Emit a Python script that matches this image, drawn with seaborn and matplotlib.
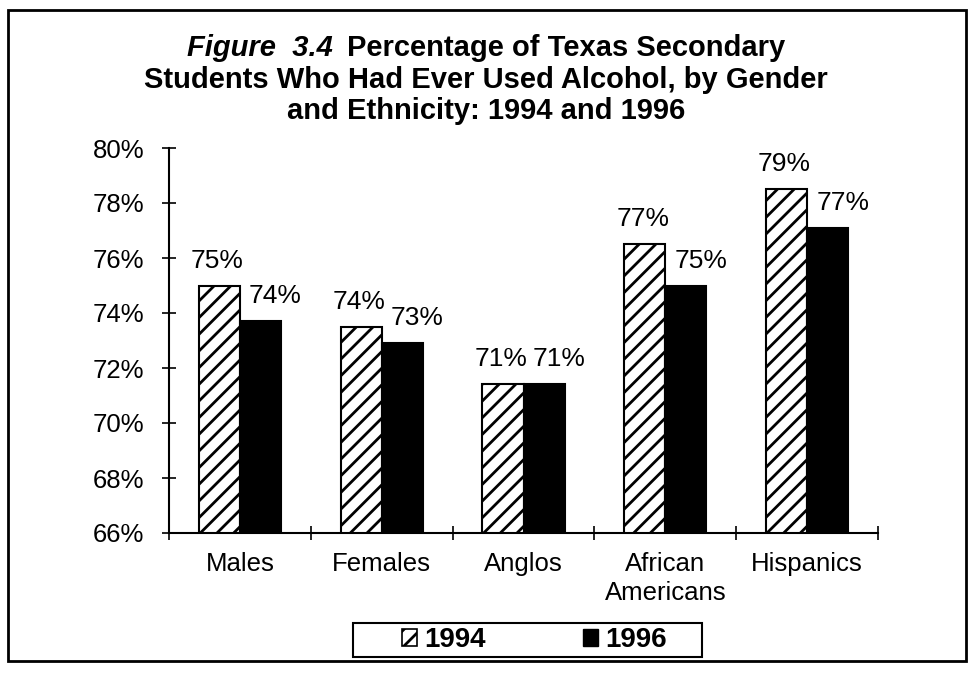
import matplotlib
matplotlib.use("Agg")
import matplotlib.pyplot as plt
import seaborn as sns
import pandas as pd
from matplotlib.patches import Patch, Rectangle

# ---- data ----
categories = ["Males", "Females", "Anglos", "African\nAmericans", "Hispanics"]
years = ["1994", "1996"]
values_1994 = [75.0, 73.5, 71.4, 76.5, 78.5]
values_1996 = [73.7, 72.9, 71.4, 75.0, 77.1]
y_ticks = [66, 68, 70, 72, 74, 76, 78, 80]

sns.set_theme(style="white")
plt.rcParams["font.family"] = ["Liberation Sans", "DejaVu Sans"]
plt.rcParams["hatch.linewidth"] = 2.0
plt.rcParams["hatch.color"] = "black"
plt.rcParams["text.color"] = "black"
plt.rcParams["xtick.color"] = "black"
plt.rcParams["ytick.color"] = "black"

df = pd.DataFrame({
    "group": categories * 2,
    "year": [years[0]] * len(categories) + [years[1]] * len(categories),
    "value": values_1994 + values_1996,
})

W, H = 969, 674
fig = plt.figure(figsize=(W / 100, H / 100), dpi=100)
fig.patch.set_facecolor("white")
ax = fig.add_axes([169 / W, 1 - 533 / H, (878 - 169) / W, (533 - 148) / H])

sns.barplot(data=df, x="group", y="value", hue="year", hue_order=years,
            order=categories, palette={"1994": "white", "1996": "black"},
            edgecolor="black", linewidth=1.5, width=0.58, ax=ax,
            legend=False, errorbar=None, saturation=1)
for p in ax.containers[0]:
    p.set_hatch("//")

# value labels
for ci, (cont, vals) in enumerate(zip(ax.containers, [values_1994, values_1996])):
    dx = -2 if ci == 0 else 15
    for bar, v in zip(cont, vals):
        ax.annotate(f"{int(v + 0.5)}%",
                    (bar.get_x() + bar.get_width() / 2, bar.get_height()),
                    xytext=(dx, 18), textcoords="offset pixels",
                    ha="center", va="baseline", fontsize=19, color="black",
                    annotation_clip=False)

ax.set_ylim(66, 80)
ax.set_xlim(-0.5, len(categories) - 0.5)
ax.set_yticks(y_ticks)
ax.set_yticklabels([f"{t}%" for t in y_ticks], fontsize=18.5, color="black")
ax.set_xticks([i - 0.5 for i in range(len(categories) + 1)])
ax.set_xticklabels([])
ax.set_xticks(range(len(categories)), minor=True)
ax.set_xticklabels(categories, minor=True, fontsize=18.5, color="black",
                   linespacing=1.25)
ax.tick_params(axis="x", which="minor", length=0, pad=14, bottom=True)
ax.tick_params(axis="both", which="major", direction="inout", length=10,
               width=1.2, color="black", bottom=True, left=True)
ax.tick_params(axis="y", which="major", pad=13)
ax.set_xlabel("")
ax.set_ylabel("")
sns.despine(ax=ax)
for s in ["left", "bottom"]:
    ax.spines[s].set_color("black")
    ax.spines[s].set_linewidth(1.5)

# title
r = fig.canvas.get_renderer()
tfs = 21
y1, y2, y3 = 1 - 56 / H, 1 - 88 / H, 1 - 119 / H
t1 = fig.text(0, y1, "Figure  3.4", fontsize=tfs, fontweight="bold",
              fontstyle="italic", va="baseline", color="black")
t2 = fig.text(0, y1, "Percentage of Texas Secondary", fontsize=tfs,
              fontweight="bold", va="baseline", color="black")
w1 = t1.get_window_extent(r).width
w2 = t2.get_window_extent(r).width
gap = 14
x0 = 486 - (w1 + gap + w2) / 2
t1.set_x(x0 / W)
t2.set_x((x0 + w1 + gap) / W)
fig.text(486 / W, y2, "Students Who Had Ever Used Alcohol, by Gender",
         fontsize=tfs, fontweight="bold", ha="center", va="baseline", color="black")
fig.text(486 / W, y3, "and Ethnicity: 1994 and 1996",
         fontsize=tfs, fontweight="bold", ha="center", va="baseline", color="black")

# legend
handles = [Patch(facecolor="white", edgecolor="black", hatch="//", linewidth=1.2),
           Patch(facecolor="black", edgecolor="black")]
fig.legend(handles, years, loc="center", bbox_to_anchor=(534 / W, 1 - 640 / H),
           ncol=2, frameon=False, prop={"size": 20, "weight": "bold"},
           handlelength=0.55, handleheight=0.55, handletextpad=0.25,
           columnspacing=3.5)
fig.add_artist(Rectangle((353 / W, 1 - 657 / H), (702 - 353) / W, (657 - 623) / H,
                         transform=fig.transFigure, fill=False,
                         edgecolor="black", linewidth=1.5))

# outer frame
fig.add_artist(Rectangle((8 / W, 1 - 661 / H), (966 - 8) / W, (661 - 10) / H,
                         transform=fig.transFigure, fill=False,
                         edgecolor="black", linewidth=2))

fig.savefig("out.png", dpi=100)
